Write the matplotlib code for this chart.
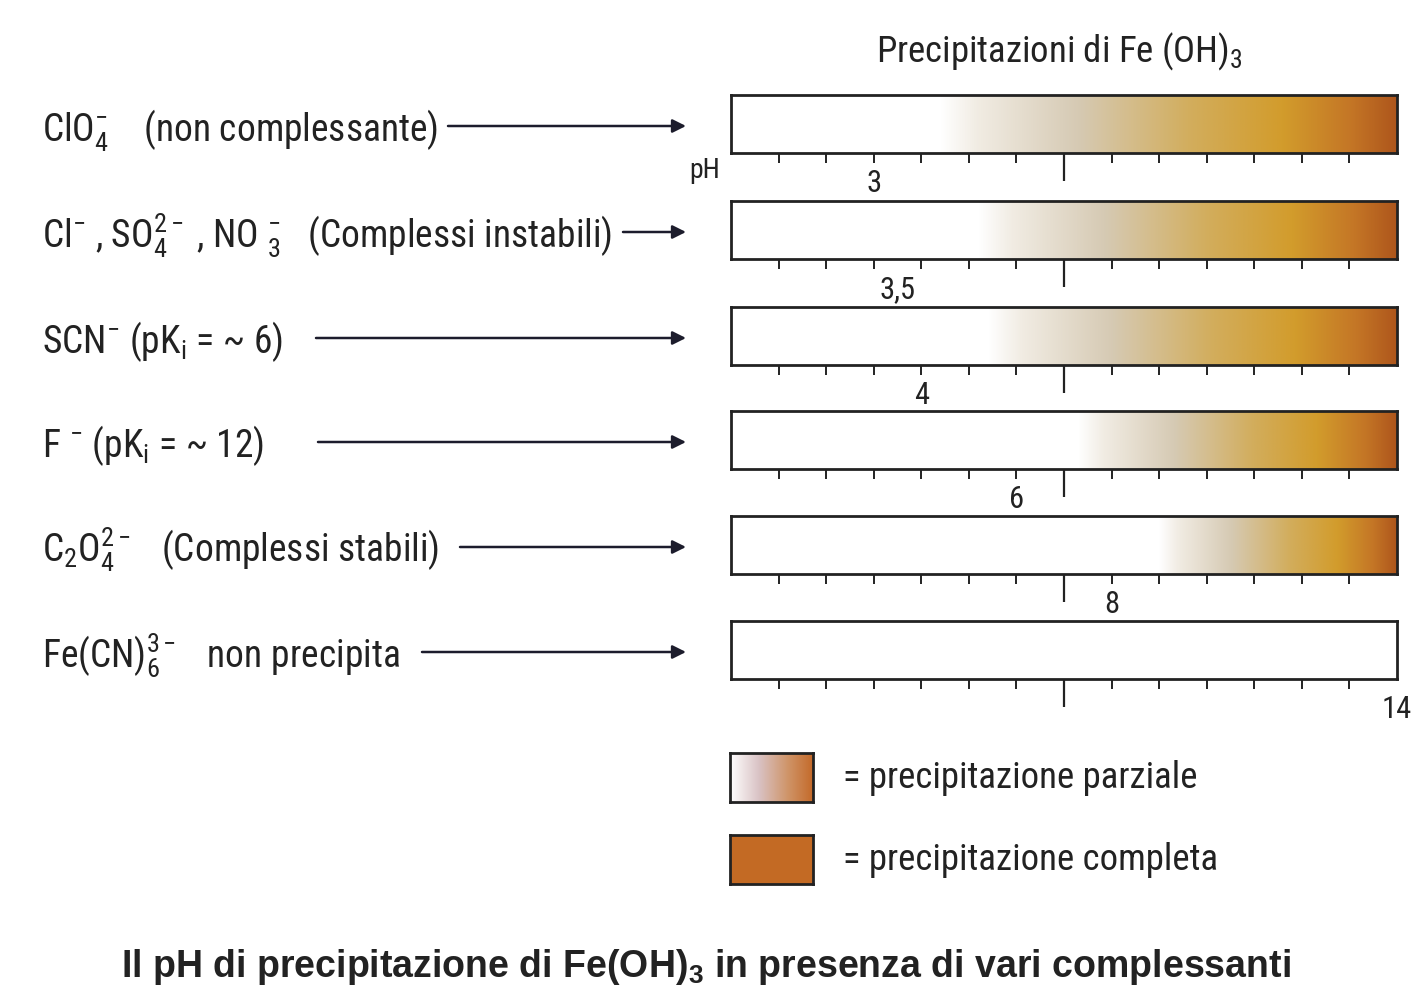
import numpy as np
import matplotlib
matplotlib.use("Agg")
import matplotlib.pyplot as plt
from matplotlib import font_manager as fm
from matplotlib.colors import LinearSegmentedColormap
from matplotlib.transforms import blended_transform_factory

# ---------------- data ----------------
anion_labels = [
    r"ClO$_{4}^{-}$    (non complessante)",
    r"Cl$^{-}$ , SO$_{4}^{2-}$ , NO $_{3}^{-}$   (Complessi instabili)",
    r"SCN$^{-}$ (pK$_{\mathrm{i}}$ = ~ 6)",
    r"F $^{-}$ (pK$_{\mathrm{i}}$ = ~ 12)",
    r"C$_{2}$O$_{4}^{2-}$   (Complessi stabili)",
    r"Fe(CN)$_{6}^{3-}$   non precipita",
]
ph_label_text = ["3", "3,5", "4", "6", "8", "14"]
ph_label_value = [3.0, 3.5, 4.0, 6.0, 8.0, 14.0]
gradient_start_ph = [4.4, 5.2, 5.4, 7.3, 9.0, None]
ph_min, ph_max = 0, 14
minor_ticks = [1, 2, 3, 4, 5, 6, 8, 9, 10, 11, 12, 13]
major_ticks = [7]
legend_labels = ["= precipitazione parziale", "= precipitazione completa"]
title_text = r"Precipitazioni di Fe (OH)$_{3}$"
caption_text = r"Il pH di precipitazione di Fe(OH)$_{\mathbf{3}}$ in presenza di vari complessanti"

# ---------------- fonts ----------------
def pick(names):
    for n in names:
        try:
            fm.findfont(fm.FontProperties(family=n), fallback_to_default=False)
            return n
        except Exception:
            pass
    return "DejaVu Sans"

narrow = pick(["Liberation Sans Narrow", "DejaVu Sans Condensed", "Roboto Condensed",
               "Liberation Sans"])
boldfont = pick(["Liberation Sans", "Roboto", "DejaVu Sans"])
plt.rcParams["font.family"] = [narrow, "DejaVu Sans"]
plt.rcParams["mathtext.fontset"] = "custom"
plt.rcParams["mathtext.rm"] = narrow
plt.rcParams["mathtext.sf"] = narrow
plt.rcParams["mathtext.it"] = narrow + ":italic"
plt.rcParams["mathtext.bf"] = boldfont + ":bold"

W, H = 1423, 999
fig = plt.figure(figsize=(W / 100, H / 100), dpi=100)
fig.patch.set_facecolor("white")

def fx(x):
    return x / W

def fy(y):
    return 1 - y / H

TXT = "#222222"
ARROW = "#1c1c2c"

cmap = LinearSegmentedColormap.from_list(
    "fe", [(0.0, "#ffffff"), (0.08, "#f1ece3"), (0.3, "#d6cab4"),
           (0.55, "#d2ad5c"), (0.75, "#d29c2c"), (0.9, "#c47626"), (1.0, "#ae561c")])
cmap_leg = LinearSegmentedColormap.from_list(
    "leg", [(0.0, "#ffffff"), (0.35, "#d9c2c4"), (0.7, "#cf9468"), (1.0, "#c46a2a")])

bar_left, bar_w, bar_h = 731, 666, 58
bar_tops = [95, 201, 307, 411, 516, 621]
arrow_start_x = [448, 623, 316, 318, 460, 422]
arrow_end_x = 686
grad = np.linspace(0, 1, 512)[None, :]

for i, top in enumerate(bar_tops):
    ax = fig.add_axes([fx(bar_left), fy(top + bar_h), bar_w / W, bar_h / H])
    ax.set_facecolor("white")
    if gradient_start_ph[i] is not None:
        ax.imshow(grad, extent=[gradient_start_ph[i], ph_max, 0, 1], aspect="auto",
                  cmap=cmap, interpolation="bilinear", zorder=1)
    ax.set_xlim(ph_min, ph_max)
    ax.set_ylim(0, 1)
    ax.set_yticks([])
    ax.set_xticks(major_ticks)
    ax.set_xticks(minor_ticks, minor=True)
    ax.tick_params(axis="x", which="major", length=20, width=1.6, color=TXT,
                   labelbottom=False, direction="out")
    ax.tick_params(axis="x", which="minor", length=7, width=1.4, color=TXT,
                   labelbottom=False, direction="out")
    for s in ax.spines.values():
        s.set_linewidth(2.0)
        s.set_color(TXT)
    tr = blended_transform_factory(ax.transData, ax.transAxes)
    ax.text(ph_label_value[i], -0.53, ph_label_text[i], transform=tr, ha="center",
            va="center", fontsize=22, color=TXT, clip_on=False)
    if i == 0:
        ax.text(-0.55, -0.3, "pH", transform=tr, ha="center", va="center",
                fontsize=20, color=TXT, clip_on=False)

    yc = top + bar_h / 2
    fig.text(fx(42), fy(yc + 17), anion_labels[i], fontsize=27, color=TXT,
             ha="left", va="baseline")
    fig.add_artist(matplotlib.patches.FancyArrowPatch(
        (fx(arrow_start_x[i]), fy(yc + 2)), (fx(arrow_end_x), fy(yc + 2)),
        transform=fig.transFigure, arrowstyle="-|>", mutation_scale=20,
        linewidth=1.8, color=ARROW, shrinkA=0, shrinkB=0))

# title
fig.text(fx(876), fy(62), title_text, fontsize=26.5, color=TXT, ha="left", va="baseline")

# legend swatches
sw_tops = [753, 835]
for j, top in enumerate(sw_tops):
    lax = fig.add_axes([fx(730), fy(top + 49), 83 / W, 49 / H])
    if j == 0:
        lax.imshow(grad, extent=[0, 1, 0, 1], aspect="auto", cmap=cmap_leg,
                   interpolation="bilinear")
    else:
        lax.set_facecolor("#c36a24")
    lax.set_xlim(0, 1)
    lax.set_ylim(0, 1)
    lax.set_xticks([])
    lax.set_yticks([])
    for s in lax.spines.values():
        s.set_linewidth(2.0)
        s.set_color(TXT)
    fig.text(fx(843), fy(top + 24.5), legend_labels[j], fontsize=26.5, color=TXT,
             ha="left", va="center")

# caption
fig.text(fx(706), fy(977), caption_text, fontsize=27, fontweight="bold",
         family=[boldfont, "DejaVu Sans"], color=TXT, ha="center", va="baseline")

fig.savefig("out.png", dpi=100, facecolor="white")
